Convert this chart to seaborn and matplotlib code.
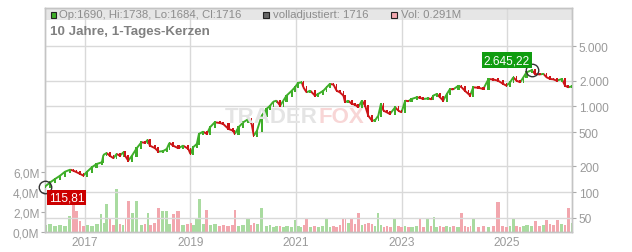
import numpy as np
import pandas as pd
import matplotlib
matplotlib.use("Agg")
import matplotlib.pyplot as plt
import seaborn as sns
from matplotlib.patches import Rectangle
from matplotlib.collections import LineCollection

# ---------------- data ----------------
t_year = [
    2016.24, 2016.34, 2016.43, 2016.53, 2016.62, 2016.72, 2016.78, 2016.84, 2016.91, 2016.97,
    2017.03, 2017.13, 2017.22, 2017.32, 2017.35, 2017.41, 2017.47, 2017.54, 2017.60, 2017.66,
    2017.73, 2017.76, 2017.82, 2017.89, 2017.98, 2018.07, 2018.14, 2018.19, 2018.23, 2018.33,
    2018.39, 2018.48, 2018.55, 2018.60, 2018.67, 2018.77, 2018.86, 2018.96, 2019.00, 2019.05,
    2019.12, 2019.16, 2019.24, 2019.31, 2019.37, 2019.46, 2019.56, 2019.62, 2019.72, 2019.81,
    2019.84, 2019.91, 2020.00, 2020.10, 2020.16, 2020.20, 2020.26, 2020.35, 2020.44, 2020.51,
    2020.57, 2020.63, 2020.70, 2020.76, 2020.82, 2020.92, 2020.98, 2021.04, 2021.11, 2021.14,
    2021.20, 2021.27, 2021.36, 2021.42, 2021.52, 2021.58, 2021.64, 2021.71, 2021.77, 2021.83,
    2021.90, 2021.93, 2021.99, 2022.06, 2022.12, 2022.18, 2022.25, 2022.31, 2022.37, 2022.44,
    2022.50, 2022.56, 2022.61, 2022.66, 2022.72, 2022.78, 2022.88, 2022.94, 2023.00, 2023.07,
    2023.13, 2023.19, 2023.29, 2023.35, 2023.41, 2023.51, 2023.57, 2023.60, 2023.67, 2023.73,
    2023.79, 2023.86, 2023.92, 2023.98, 2024.08, 2024.14, 2024.20, 2024.27, 2024.30, 2024.36,
    2024.46, 2024.55, 2024.65, 2024.74, 2024.83, 2024.93, 2024.99, 2025.06, 2025.12, 2025.18,
    2025.25, 2025.31, 2025.37, 2025.47, 2025.53, 2025.63, 2025.69, 2025.75, 2025.82, 2025.88,
    2025.94, 2026.04, 2026.10, 2026.16, 2026.23,
]

close = [
    115.81, 130, 142, 156, 173, 183, 178, 171, 163, 156,
    171, 195, 213, 223, 272, 286, 266, 249, 279, 266,
    292, 266, 233, 266, 325, 382, 376, 409, 349, 325,
    297, 301, 319, 375, 349, 325, 349, 319, 279, 334,
    365, 477, 508, 477, 571, 653, 640, 624, 546, 521,
    477, 571, 653, 714, 624, 456, 521, 780, 934, 1020,
    1136, 1167, 1020, 1167, 1335, 1526, 1672, 1877, 1912, 1672,
    1462, 1526, 1335, 1397, 1526, 1672, 1827, 1800, 1526, 1462,
    1335, 1118, 1167, 1068, 1050, 977, 1167, 1020, 780, 682,
    690, 780, 1068, 892, 854, 816, 977, 892, 854, 1167,
    1150, 1221, 1278, 1260, 1221, 1240, 1210, 1335, 1397, 1278,
    1167, 1397, 1597, 1580, 1745, 1672, 1526, 1397, 1335, 1672,
    1650, 1597, 2089, 2060, 1996, 1827, 1745, 1912, 2187, 1996,
    1912, 2187, 2501, 2645.22, 2390, 2360, 2400, 2187, 2089, 2070,
    1996, 2089, 1745, 1672, 1716,
]

volume_m = [
    0.7, 0.8, 0.6, 0.7, 0.6, 1.6, 2.9, 2.1, 1.1, 0.6,
    0.7, 0.6, 0.8, 1.8, 0.9, 2.8, 1.4, 0.7, 4.3, 0.8,
    0.7, 1.4, 3.1, 1.9, 3.1, 0.7, 0.8, 1.9, 0.7, 0.9,
    2.4, 2.1, 2.1, 0.8, 1.8, 2.1, 0.7, 0.8, 0.9, 0.7,
    1.3, 3.3, 0.8, 2.2, 0.7, 0.8, 0.6, 0.7, 0.6, 0.7,
    2.2, 0.6, 0.7, 1.4, 0.7, 0.9, 0.8, 2.4, 0.6, 0.7,
    0.5, 0.6, 0.6, 0.5, 0.6, 0.5, 1.2, 0.6, 0.5, 0.7,
    1.3, 0.5, 0.6, 0.5, 0.6, 1.3, 0.5, 0.6, 0.5, 0.7,
    1.3, 1.4, 0.9, 1.4, 0.8, 1.9, 0.7, 0.8, 0.9, 0.8,
    0.6, 1.9, 0.7, 0.5, 0.6, 0.5, 1.3, 0.6, 0.5, 0.6,
    0.5, 0.5, 0.6, 1.3, 0.5, 1.4, 0.6, 1.5, 0.5, 0.6,
    0.5, 0.6, 0.5, 0.6, 0.5, 1.9, 0.6, 0.5, 0.6, 1.3,
    0.5, 0.6, 0.5, 0.6, 3.0, 0.6, 0.5, 0.6, 1.3, 0.6,
    0.5, 0.6, 0.7, 0.6, 1.1, 0.6, 0.7, 1.2, 0.8, 0.7,
    1.2, 0.8, 0.7, 2.4, 0.9,
]

price_ticks = [50, 100, 200, 500, 1000, 2000, 5000]
price_tick_labels = ["50", "100", "200", "500", "1.000", "2.000", "5.000"]
vol_ticks = [0, 2, 4, 6]
vol_tick_labels = ["0,0M", "2,0M", "4,0M", "6,0M"]
year_ticks = [2017, 2019, 2021, 2023, 2025]
year_labels = ["2017", "2019", "2021", "2023", "2025"]

title_text = "10 Jahre, 1-Tages-Kerzen"
legend_ohlc = "Op:1690, Hi:1738, Lo:1684, Cl:1716"
legend_adj = "volladjustiert: 1716"
legend_vol = "Vol: 0.291M"
low_label = "115,81"
high_label = "2.645,22"

# ---------------- styling ----------------
GREEN = "#3fae29"
RED = "#cc1518"
VOL_GREEN = "#a9dba0"
VOL_PINK = "#f2a7ae"
GRID = "#d9d9d9"
TXT = "#9a9a9a"

sns.set_theme(style="white")
plt.rcParams["font.family"] = ["Liberation Sans", "DejaVu Sans"]

W, H = 632, 253
fig = plt.figure(figsize=(W / 100, H / 100), dpi=100)
L, R, T, B = 45, 572, 9, 233
ax_vol = fig.add_axes([L / W, 1 - B / H, (R - L) / W, (B - T) / H])
ax_p = ax_vol.twinx()

t = np.array(t_year)
c = np.array(close, dtype=float)
o = np.r_[c[0], c[:-1]]
up = c >= o
edges = np.r_[t[0] - (t[1] - t[0]) / 2, (t[1:] + t[:-1]) / 2, t[-1] + (t[-1] - t[-2]) / 2]
gap = np.diff(edges)

df = pd.DataFrame({"t": t, "vol": volume_m, "dir": np.where(up, "up", "down")})

# volume bars (seaborn histogram weighted by volume, one bin per sample)
sns.histplot(data=df, x="t", weights="vol", bins=list(edges), hue="dir",
             hue_order=["up", "down"], palette={"up": VOL_GREEN, "down": VOL_PINK},
             multiple="layer", alpha=1, linewidth=0, shrink=0.75, ax=ax_vol,
             legend=False, zorder=2)

x0, x1 = 2016.242, 2026.232
ax_vol.set_xlim(x0, x1)
ax_vol.set_ylim(0, 22.4)
ax_vol.set_xlabel("")
ax_vol.set_ylabel("")
ax_vol.set_yticks(vol_ticks)
ax_vol.set_yticklabels(vol_tick_labels)
ax_vol.set_xticks(year_ticks)
ax_vol.set_xticklabels(year_labels)
ax_vol.tick_params(axis="y", left=True, length=3, width=0.8, color="#aaaaaa",
                   labelsize=8.6, labelcolor=TXT, pad=1)
ax_vol.tick_params(axis="x", bottom=False, length=0, labelsize=8.6, labelcolor=TXT, pad=3)
ax_vol.grid(True, axis="x", color=GRID, lw=1)
ax_vol.set_axisbelow(True)

# legend band
ax_vol.add_patch(Rectangle((0, 1 - 12 / (B - T)), 1, 12 / (B - T), transform=ax_vol.transAxes,
                           facecolor="#e6e6e6", edgecolor="none", zorder=0.1))

# price: coloured connecting strokes + narrow candle bodies
ax_p.set_yscale("log")
segs = [[(t[i - 1], c[i - 1]), (t[i], c[i])] for i in range(1, len(t))]
ax_p.add_collection(LineCollection(segs, colors=np.where(up[1:], GREEN, RED),
                                   linewidths=1.4, zorder=3, capstyle="butt"))
lo = np.minimum(o, c) / 1.028
hi = np.maximum(o, c) * 1.028
ax_p.bar(t, hi - lo, bottom=lo, width=gap * 0.5, align="center",
         color=np.where(up, GREEN, RED), linewidth=0, zorder=4)
ax_p.set_ylim(34.3, 14060)
ax_p.set_yticks(price_ticks)
ax_p.set_yticklabels(price_tick_labels)
ax_p.yaxis.set_minor_locator(matplotlib.ticker.NullLocator())
ax_p.tick_params(axis="y", right=True, length=3, width=0.8, color="#aaaaaa",
                 labelsize=8.6, labelcolor=TXT, pad=2)
ax_p.grid(True, axis="y", color=GRID, lw=1, zorder=0)
ax_p.set_axisbelow(True)
ax_p.set_xlim(x0, x1)

for a in (ax_vol, ax_p):
    for s in a.spines.values():
        s.set_color("#c4c4c4")
        s.set_linewidth(1)

# low / high markers
imin = int(np.argmin(c))
imax = int(np.argmax(c))
ax_p.plot(t[imin], c[imin], marker="o", ms=9, mfc="none", mec="#333333", mew=1,
          clip_on=False, zorder=5)
ax_p.plot(t[imax], c[imax], marker="o", ms=9, mfc="none", mec="#333333", mew=1,
          clip_on=False, zorder=5)
ax_p.annotate(low_label, (t[imin], c[imin]), xytext=(22, -11), textcoords="offset pixels",
              ha="center", va="center", color="white", fontsize=8.6, zorder=6,
              bbox=dict(boxstyle="square,pad=0.15", fc="#cc0000", ec="none"))
ax_p.annotate(high_label, (t[imax], c[imax]), xytext=(-25, 10), textcoords="offset pixels",
              ha="center", va="center", color="white", fontsize=8.6, zorder=6,
              bbox=dict(boxstyle="square,pad=0.15", fc="#109c10", ec="none"))

# watermark
fig.text(318 / W, 1 - 118 / H, "TRADER", fontsize=16, fontweight="bold", color="#e4e4e4",
         va="center", ha="right", zorder=0)
fig.text(318 / W, 1 - 118 / H, "FOX", fontsize=16, fontweight="bold", color="#f8d6d6",
         va="center", ha="left", zorder=0)

# legend row
def sq(x, col):
    fig.add_artist(Rectangle((x / W, 1 - 18.5 / H), 5.5 / W, 5.5 / H, transform=fig.transFigure,
                             facecolor=col, edgecolor="#222222", lw=0.8))

sq(50.5, GREEN)
fig.text(59 / W, 1 - 15.5 / H, legend_ohlc, fontsize=8.2, color="#8c8c8c", va="center")
sq(263, "#666666")
fig.text(273 / W, 1 - 15.5 / H, legend_adj, fontsize=8.2, color="#8c8c8c", va="center")
sq(391, VOL_PINK)
fig.text(401 / W, 1 - 15.5 / H, legend_vol, fontsize=8.2, color="#8c8c8c", va="center")

fig.text(50 / W, 1 - 32 / H, title_text, fontsize=9.6, fontweight="bold", color="#808080",
         va="center", ha="left")

fig.savefig("out.png", dpi=100)
